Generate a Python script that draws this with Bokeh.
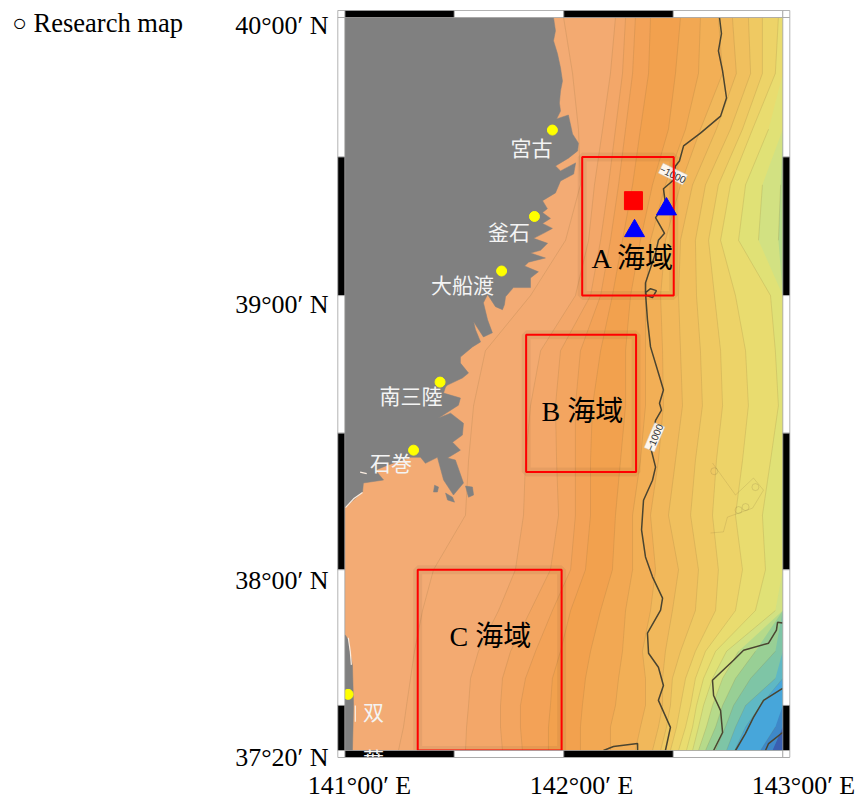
import numpy as np
from bokeh.core.properties import value
from bokeh.embed import file_html
from bokeh.models import Range1d
from bokeh.plotting import figure
from bokeh.resources import INLINE


def merc(lat):
    return np.log(np.tan(np.pi / 4 + np.radians(np.asarray(lat, dtype=float)) / 2))


LON_W, LON_E, LAT_N, LAT_S = 141.0, 143.0, 40.0, 37.3333

row_lat = [40, 39.8, 39.6, 39.4, 39.2, 39.0, 38.8, 38.6, 38.4, 38.2, 38.0, 37.85, 37.7, 37.6, 37.5, 37.42, 37.3333]

# isobath longitude, degrees east of 141E, one list per depth level (shallow to deep)
isobath = [
    [.999, 1.040, 1.067, 1.076, 1.008, .848, .642, .588, .565, .551, .405, .355, .318, .300, .282, .268, .245],
    [1.236, 1.213, 1.177, 1.140, 1.113, 1.053, .894, .848, .825, .816, .779, .702, .610, .574, .565, .556, .551],
    [1.282, 1.268, 1.236, 1.204, 1.168, 1.122, .985, .962, .967, .976, .939, .848, .757, .720, .711, .711, .720],
    [1.327, 1.314, 1.282, 1.250, 1.213, 1.168, 1.076, 1.053, 1.053, 1.053, 1.031, .948, .871, .825, .802, .802, .811],
    [1.396, 1.387, 1.350, 1.314, 1.268, 1.222, 1.168, 1.131, 1.122, 1.122, 1.099, 1.031, .985, .948, .939, .930, .930],
    [1.533, 1.510, 1.478, 1.405, 1.350, 1.305, 1.282, 1.282, 1.259, 1.236, 1.222, 1.168, 1.122, 1.099, 1.085, 1.076, 1.076],
    [1.624, 1.615, 1.556, 1.464, 1.396, 1.373, 1.373, 1.373, 1.350, 1.314, 1.314, 1.282, 1.268, 1.250, 1.236, 1.213, 1.213],
    [1.706, 1.725, 1.624, 1.533, 1.464, 1.442, 1.451, 1.455, 1.432, 1.396, 1.419, 1.396, 1.359, 1.373, 1.373, 1.350, 1.327],
    [1.770, 1.788, 1.697, 1.588, 1.533, 1.524, 1.533, 1.542, 1.510, 1.478, 1.524, 1.496, 1.464, 1.451, 1.451, 1.432, 1.405],
    [1.843, 1.853, 1.761, 1.647, 1.601, 1.606, 1.624, 1.633, 1.601, 1.579, 1.615, 1.601, 1.533, 1.496, 1.487, 1.469, 1.442],
    [1.907, 1.907, 1.816, 1.706, 1.661, 1.688, 1.716, 1.725, 1.697, 1.679, 1.706, 1.693, 1.601, 1.556, 1.533, 1.515, 1.487],
    [1.980, 1.966, 1.862, 1.761, 1.716, 1.784, 1.830, 1.843, 1.816, 1.784, 1.816, 1.784, 1.647, 1.601, 1.579, 1.556, 1.524],
    [2.058, 2.044, 1.935, 1.830, 1.798, 1.944, 1.966, 1.980, 1.944, 1.907, 1.921, 1.875, 1.693, 1.638, 1.606, 1.588, 1.560],
    [2.126, 2.126, 2.012, 1.907, 1.889, 2.081, 2.081, 2.081, 2.058, 1.990, 2.012, 1.966, 1.743, 1.679, 1.638, 1.615, 1.588],
    [2.264, 2.264, 2.104, 1.990, 1.980, 2.218, 2.218, 2.218, 2.172, 2.081, 2.172, 2.081, 1.798, 1.725, 1.679, 1.651, 1.615],
    [2.35, 2.35, 2.218, 2.058, 2.058, 2.35, 2.35, 2.35, 2.35, 2.3, 2.3, 2.218, 1.875, 1.784, 1.725, 1.693, 1.647],
    [2.4, 2.4, 2.4, 2.4, 2.4, 2.4, 2.4, 2.4, 2.4, 2.4, 2.4, 2.4, 1.966, 1.853, 1.775, 1.738, 1.693],
    [2.4, 2.4, 2.4, 2.4, 2.4, 2.4, 2.4, 2.4, 2.4, 2.4, 2.4, 2.4, 2.15, 1.966, 1.830, 1.784, 1.743],
    [2.4, 2.4, 2.4, 2.4, 2.4, 2.4, 2.4, 2.4, 2.4, 2.4, 2.4, 2.4, 2.3, 2.0, 1.898, 1.830, 1.780],
    [2.4, 2.4, 2.4, 2.4, 2.4, 2.4, 2.4, 2.4, 2.4, 2.4, 2.4, 2.4, 2.4, 2.3, 2.081, 1.966, 1.898],
    [2.4, 2.4, 2.4, 2.4, 2.4, 2.4, 2.4, 2.4, 2.4, 2.4, 2.4, 2.4, 2.4, 2.4, 2.2, 2.081, 1.953],
]
sea_base = "#F3AB74"
band_colors = ["#F3AA71", "#F3A769", "#F3A560", "#F3A257", "#F2A14E", "#F2A853", "#F2AF56",
               "#F1B85B", "#F0C05E", "#EFC962", "#EDD368", "#E9DC6F", "#E0E176", "#D2E182",
               "#B6DA8A", "#98CF95", "#7EC5A6", "#5FB8C4", "#47A6DA", "#3E88C8", "#3A5FB0"]

coast_lon = [141.0, 141.953, 141.962, 141.953, 141.971, 141.985, 141.994, 141.985, 141.980, 141.985, 141.967,
             142.021, 142.040, 142.067, 142.063, 142.021, 141.962, 141.985, 142.054, 142.045, 141.985,
             141.962, 141.903, 141.925, 141.903, 141.939, 141.903, 141.948, 141.907, 141.862, 141.926,
             141.894, 141.848, 141.916, 141.839, 141.821, 141.884, 141.848, 141.848, 141.770, 141.734,
             141.729, 141.720, 141.688, 141.652, 141.633, 141.652, 141.674, 141.633, 141.588, 141.597,
             141.620, 141.583, 141.528, 141.528, 141.565, 141.537, 141.469, 141.460, 141.451, 141.528,
             141.519, 141.428, 141.483, 141.542, 141.537, 141.492, 141.528, 141.469, 141.505, 141.542,
             141.496, 141.451, 141.423, 141.368, 141.346, 141.300, 141.195, 141.140, 141.177, 141.085,
             141.081, 141.003, 141.0]
coast_lat = [40.0, 40.0, 39.953, 39.917, 39.871, 39.820, 39.773, 39.737, 39.694, 39.665, 39.637,
             39.651, 39.583, 39.550, 39.522, 39.496, 39.468, 39.450, 39.479, 39.439, 39.414,
             39.371, 39.343, 39.314, 39.300, 39.279, 39.261, 39.243, 39.225, 39.207, 39.189,
             39.164, 39.154, 39.136, 39.121, 39.107, 39.086, 39.064, 39.029, 39.029, 38.996,
             38.967, 38.949, 38.960, 39.004, 38.974, 38.912, 38.865, 38.850, 38.905, 38.876,
             38.832, 38.814, 38.777, 38.755, 38.719, 38.701, 38.675, 38.668, 38.646, 38.628,
             38.602, 38.555, 38.573, 38.536, 38.493, 38.467, 38.438, 38.409, 38.402, 38.318,
             38.274, 38.329, 38.412, 38.390, 38.412, 38.412, 38.383, 38.365, 38.329, 38.318,
             38.285, 38.230, 38.230]
island_lons = [[141.410, 141.428, 141.423, 141.405], [141.460, 141.492, 141.501, 141.469],
               [141.551, 141.583, 141.588, 141.565],
               [141.0, 141.003, 141.017, 141.026, 141.035, 141.040, 141.035, 141.0]]
island_lats = [[38.310, 38.303, 38.285, 38.285], [38.281, 38.266, 38.248, 38.256],
               [38.307, 38.303, 38.274, 38.266],
               [37.759, 37.759, 37.741, 37.685, 37.648, 37.5, 37.3333, 37.3333]]
shore_lons = [[141.003, 141.04, 141.081], [141.07, 141.10], [141.016, 141.025, 141.03], [141.048, 141.048]]
shore_lats = [[38.228, 38.26, 38.283], [38.358, 38.352], [37.75, 37.70, 37.65], [37.5, 37.44]]

iso1000_lons = [
    [142.711, 142.720, 142.706, 142.725, 142.743, 142.716, 142.624, 142.547, 142.528, 142.510, 142.496, 142.455,
     142.464, 142.419, 142.460, 142.432, 142.419, 142.373, 142.373, 142.396, 142.423, 142.405, 142.378, 142.373,
     142.382, 142.396, 142.442, 142.455, 142.437, 142.446, 142.419, 142.396, 142.419, 142.405, 142.364, 142.355,
     142.373, 142.405, 142.451, 142.442, 142.382, 142.387, 142.432, 142.455, 142.432, 142.487, 142.464],
    [142.181, 142.227, 142.337, 142.337],
    [142.999, 142.976, 142.971, 142.935, 142.821, 142.775, 142.716, 142.679, 142.684, 142.716, 142.725, 142.684],
    [142.999, 142.912, 142.866, 142.829, 142.784],
    [142.999, 142.935, 142.921],
]
iso1000_lats = [
    [40.0, 39.942, 39.881, 39.809, 39.712, 39.647, 39.586, 39.540, 39.486, 39.468, 39.414, 39.386,
     39.332, 39.282, 39.225, 39.200, 39.154, 39.046, 39.011, 39.025, 39.018, 38.993, 39.0, 39.011,
     38.912, 38.814, 38.693, 38.657, 38.609, 38.584, 38.547, 38.449, 38.376, 38.328, 38.255, 38.146,
     38.047, 37.974, 37.896, 37.852, 37.767, 37.693, 37.641, 37.574, 37.519, 37.419, 37.3333],
    [37.3333, 37.348, 37.359, 37.3333],
    [37.804, 37.807, 37.778, 37.730, 37.704, 37.667, 37.622, 37.593, 37.537, 37.481, 37.400, 37.3333],
    [37.563, 37.519, 37.456, 37.396, 37.3333],
    [37.400, 37.359, 37.3333],
]
rise_lon = [142.679, 142.784, 142.866, 142.912, 142.862, 142.747, 142.729, 142.670]
rise_lat = [38.391, 38.274, 38.336, 38.292, 38.226, 38.193, 38.139, 38.135]
knoll_lon = [142.875, 142.687, 142.798, 142.830]
knoll_lat = [38.303, 38.361, 38.219, 38.230]

depth_label_lon = [142.498, 142.414]
depth_label_lat = [39.439, 38.485]
depth_label_deg = [-26, 67]
depth_label_text = ["−1000", "−1000"]

box_west = [142.084, 141.828, 141.333]
box_east = [142.502, 142.330, 141.990]
box_north = [39.5, 38.858, 38.0]
box_south = [39.0, 38.358, 37.3333]
sea_names = ["A 海域", "B 海域", "C 海域"]
sea_lon = [142.316, 142.085, 141.665]
sea_lat = [39.136, 38.580, 37.756]

port_lon = [141.948, 141.866, 141.716, 141.435, 141.314, 141.015]
port_lat = [39.597, 39.286, 39.089, 38.686, 38.438, 37.541]
place_names = ["宮古", "釜石", "大船渡", "南三陸", "石巻", "双"]
place_lon = [141.853, 141.750, 141.537, 141.302, 141.211, 141.131]
place_lat = [39.536, 39.232, 39.043, 38.639, 38.394, 37.481]

square_lon, square_lat = [142.318], [39.343]
tri_lon, tri_lat = [142.323, 142.469], [39.234, 39.3125]

bar_lon_edges = [141.0, 141.5, 142.0, 142.5, 143.0]
bar_lat_edges = [40.0, 39.5, 39.0, 38.5, 38.0, 37.5, 37.3333]
bar_lon_colors = ["black", "white", "black", "white"]
bar_lat_colors = ["white", "black", "white", "black", "white", "black"]

x_tick_lon = [141.067, 142.081, 143.0945]
x_tick_lat = [37.204, 37.204, 37.204]
x_tick_labels = ["141°00′ E", "142°00′ E", "143°00′ E"]
y_tick_lon = [140.9256, 140.9256, 140.9256, 140.9256]
y_tick_lat = [39.971, 38.967, 37.959, 37.307]
y_tick_labels = ["40°00′ N", "39°00′ N", "38°00′ N", "37°20′ N"]
heading_lon, heading_lat = [139.579], [39.982]
bullet_lon, bullet_lat = [139.515], [39.982]

SERIF = value("Liberation Serif")
MIXED = value("Liberation Serif, Noto Sans CJK JP")
CJK = value("Noto Sans CJK JP")

# the frame fills the page; the map occupies 344.3-782.3 / 17-750 px with a 7 px graticule bar
px_per_deg = 219.0
px_per_merc = (750 - 17) / (merc(LAT_N) - merc(LAT_S))
x_start = LON_W - 344.3 / px_per_deg
x_end = LON_W + (857 - 344.3) / px_per_deg
y_start = merc(LAT_S) - (796 - 750) / px_per_merc
y_end = merc(LAT_N) + 17 / px_per_merc
bar_w = 7.0 / px_per_deg
bar_h = 7.0 / px_per_merc

p = figure(width=857, height=796, output_backend="svg", toolbar_location=None,
           x_range=Range1d(x_start, x_end), y_range=Range1d(y_start, y_end),
           min_border=0)
p.outline_line_color = None
p.background_fill_color = "white"
p.grid.visible = False
p.axis.visible = False

rows = merc(row_lat)
p.quad(left=[LON_W], right=[LON_E], top=[merc(LAT_N)], bottom=[merc(LAT_S)], fill_color=sea_base, line_color=None)
for vals, col in zip(isobath, band_colors):
    xs = np.minimum(141 + np.array(vals), LON_E)
    p.patch(np.r_[xs, LON_E, LON_E], np.r_[rows, merc(LAT_S), merc(LAT_N)], fill_color=col, line_color=None)
cx, cy = [], []
for vals in isobath:
    xs = 141 + np.array(vals)
    xs[xs > LON_E] = np.nan
    cx.append(xs)
    cy.append(rows)
p.multi_line(cx, cy, line_color="#7d6a3c", line_alpha=0.22, line_width=0.8)
p.line(rise_lon, merc(rise_lat), line_color="#7d6a3c", line_alpha=0.22, line_width=0.8)
p.scatter(knoll_lon, merc(knoll_lat), marker="circle", size=7, fill_color=None, line_color="#7d6a3c",
          line_alpha=0.25, line_width=0.8)

p.patch(coast_lon, merc(coast_lat), fill_color="#808080", line_color="#808080", line_width=0.5)
p.patches(island_lons, [merc(v) for v in island_lats], fill_color="#808080", line_color="#808080", line_width=0.5)
p.multi_line(shore_lons, [merc(v) for v in shore_lats], line_color="#fbeee2", line_width=1.2)
p.multi_line(iso1000_lons, [merc(v) for v in iso1000_lats], line_color="#4a4430", line_width=1.5)
p.rect(depth_label_lon, merc(depth_label_lat), width=27, height=11, width_units="screen", height_units="screen",
       angle=np.radians(depth_label_deg), fill_color="white", fill_alpha=0.9, line_color="#cccccc", line_width=0.5)
p.text(depth_label_lon, merc(depth_label_lat), text=depth_label_text, angle=np.radians(depth_label_deg),
       text_font=value("Liberation Sans"), text_font_size="10px", text_color="#333333",
       text_align="center", text_baseline="middle")

p.quad(left=box_west, right=box_east, top=merc(box_north), bottom=merc(box_south),
       fill_color=None, line_color="black", line_alpha=0.05, line_width=9)
p.quad(left=box_west, right=box_east, top=merc(box_north), bottom=merc(box_south),
       fill_color=None, line_color="#FF0000", line_width=2)
p.scatter(square_lon, merc(square_lat), marker="square", size=18, color="#FF0000")
p.scatter(tri_lon, merc(tri_lat), marker="triangle", size=20, color="#0000FF")
p.scatter(port_lon, merc(port_lat), marker="circle", size=10, color="#FFFF00")
p.text(sea_lon, merc(sea_lat), text=sea_names, text_font=MIXED, text_font_size="28px",
       text_color="black", text_align="center", text_baseline="middle")
p.text(place_lon, merc(place_lat), text=place_names, text_font=CJK, text_font_size="21px",
       text_color="#F4F4F4", text_align="center", text_baseline="middle")

# graticule bars around the map
lon_l, lon_r = np.array(bar_lon_edges[:-1]), np.array(bar_lon_edges[1:])
for top, bottom in ((merc(LAT_N) + bar_h, merc(LAT_N)), (merc(LAT_S), merc(LAT_S) - bar_h)):
    p.quad(left=lon_l, right=lon_r, top=[top] * 4, bottom=[bottom] * 4, fill_color=bar_lon_colors,
           line_color="#a0a0a0", line_width=0.8)
lat_t, lat_b = merc(bar_lat_edges[:-1]), merc(bar_lat_edges[1:])
for left, right in ((LON_W - bar_w, LON_W), (LON_E, LON_E + bar_w)):
    p.quad(left=[left] * 6, right=[right] * 6, top=lat_t, bottom=lat_b, fill_color=bar_lat_colors,
           line_color="#a0a0a0", line_width=0.8)
corner_l = [LON_W - bar_w, LON_E, LON_W - bar_w, LON_E]
corner_t = [merc(LAT_N) + bar_h, merc(LAT_N) + bar_h, merc(LAT_S), merc(LAT_S)]
p.quad(left=corner_l, right=[v + bar_w for v in corner_l], top=corner_t, bottom=[v - bar_h for v in corner_t],
       fill_color="white", line_color="#a0a0a0", line_width=0.8)

# the last place name runs off the map's lower edge and is cut by the outer frame
p.text([141.131], merc([37.304]), text=["葉"], text_font=CJK, text_font_size="21px",
       text_color="#F4F4F4", text_align="center", text_baseline="middle")
p.quad(left=[x_start], right=[x_end], top=[merc(LAT_S) - bar_h], bottom=[y_start], fill_color="white", line_color=None)
p.segment(x0=[LON_W - bar_w], x1=[LON_E + bar_w], y0=[merc(LAT_S) - bar_h], y1=[merc(LAT_S) - bar_h],
          line_color="#a0a0a0", line_width=0.8)

p.text(x_tick_lon, merc(x_tick_lat), text=x_tick_labels, text_font=SERIF, text_font_size="26px",
       text_color="black", text_align="center", text_baseline="middle")
p.text(y_tick_lon, merc(y_tick_lat), text=y_tick_labels, text_font=SERIF, text_font_size="26px",
       text_color="black", text_align="right", text_baseline="middle")
p.text(heading_lon, merc(heading_lat), text=["Research map"], text_font=SERIF, text_font_size="26.5px",
       text_color="black", text_align="left", text_baseline="middle")
p.text(bullet_lon, merc(bullet_lat), text=["○"], text_font=SERIF, text_font_size="24px",
       text_color="black", text_align="center", text_baseline="middle")

open("out.html", "w").write(file_html(p, INLINE))
